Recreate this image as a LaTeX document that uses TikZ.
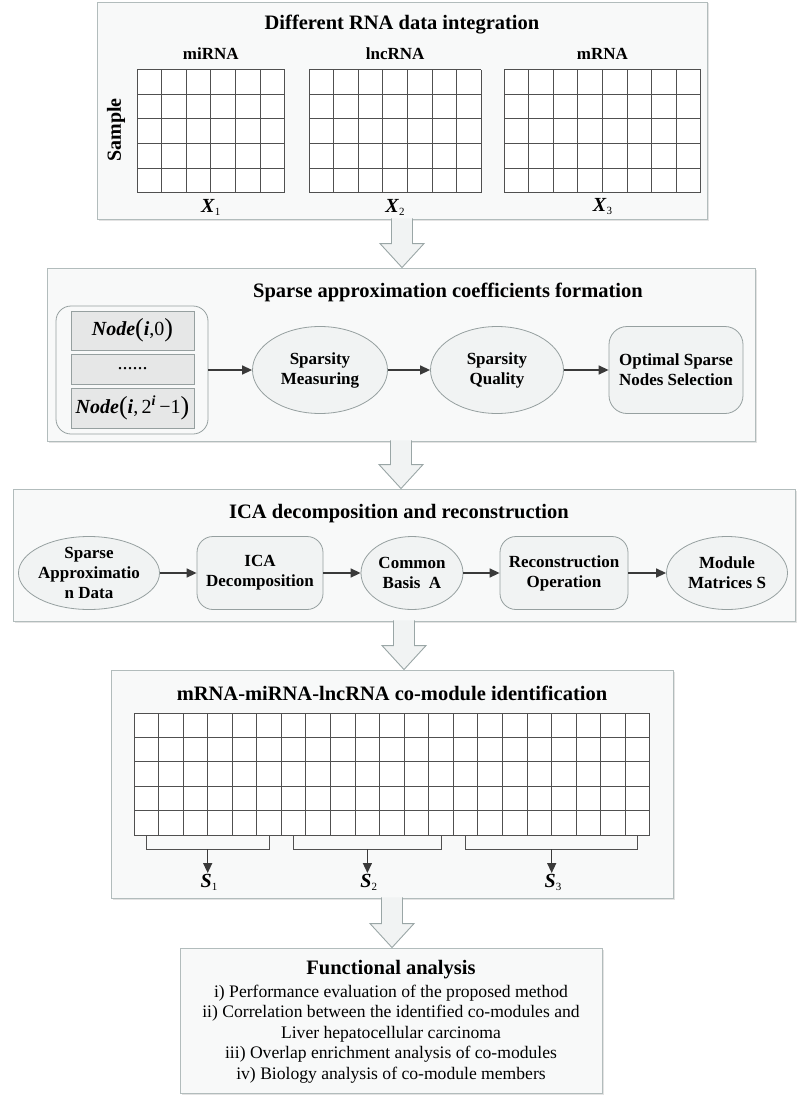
\documentclass[tikz,border=0pt]{standalone}
\usepackage{fontspec}
\setmainfont{Liberation Serif}
\usetikzlibrary{shapes.geometric,arrows.meta,shadows,calc,positioning}

\definecolor{panelfill}{HTML}{F8F9F9}
\definecolor{paneledge}{HTML}{B2BCBC}
\definecolor{boxfill}{HTML}{F1F3F3}
\definecolor{boxedge}{HTML}{96A0A0}
\definecolor{arrowfill}{HTML}{F1F3F3}
\definecolor{arrowedge}{HTML}{9AA6A6}
\definecolor{gridline}{HTML}{505050}
\definecolor{flowline}{HTML}{3A3A3A}

\newcommand\bigtitle{\fontsize{20.5}{24}\selectfont\bfseries}
\newcommand\boxfont{\fontsize{17}{20}\selectfont\bfseries}
\newcommand\bodyfont{\fontsize{17.6}{20.6}\selectfont}
\newcommand\nodefont{\fontsize{20}{22}\selectfont}
\newcommand\bi[1]{\textbf{\textit{#1}}}
\newcommand\bigparen[1]{{\fontsize{26}{26}\selectfont\raisebox{-1.5pt}{#1}}}
\newcommand\lowsub[1]{\raisebox{-3pt}{\fontsize{11}{12}\selectfont#1}}

\begin{document}
\begin{tikzpicture}[x=1pt, y=1pt,
    panel/.style={draw=paneledge, fill=panelfill, line width=0.9pt, inner sep=0pt,
        drop shadow={shadow xshift=1.5pt, shadow yshift=-1.5pt, fill=black!22}},
    paneltitle/.style={font=\bigtitle, inner sep=0pt},
    flowellipse/.style={ellipse, draw=boxedge, fill=boxfill, line width=0.8pt,
        font=\boxfont, align=center, inner sep=-20pt},
    flowbox/.style={rectangle, rounded corners=16pt, draw=boxedge, fill=boxfill,
        line width=0.8pt, font=\boxfont, align=center, inner sep=-20pt},
    nodebox/.style={rectangle, draw=boxedge, fill=boxfill!90!gray, line width=0.8pt,
        minimum width=123pt, inner sep=0pt, font=\nodefont},
    flow/.style={draw=flowline, line width=1.4pt, -{Triangle[length=10pt, width=9pt]}},
    gridcell/.style={draw=gridline, line width=1pt},
    blockarrow/.style={draw=arrowedge, fill=arrowfill, line width=0.9pt},
    sublabel/.style={font=\fontsize{20}{22}\selectfont, inner sep=1.5pt}
    ]
    \useasboundingbox (0,0) rectangle (809,-1097);

    \node[panel, minimum width=610pt, minimum height=217pt] (p1) at (402,-110.5) {};
    \node[panel, minimum width=708pt, minimum height=173pt] (p2) at (401,-354.5) {};
    \node[panel, minimum width=782pt, minimum height=132pt] (p3) at (404,-555) {};
    \node[panel, minimum width=562pt, minimum height=228pt] (p4) at (392,-784) {};
    \node[panel, minimum width=422pt, minimum height=145pt] (p5) at (391,-1020.5) {};

    \foreach \a/\b in {p1/p2, p2/p3, p3/p4, p4/p5}
        \draw[blockarrow] let \p1=(\a.south), \p2=(\b.north) in
            (\x1-10.5pt,\y1+1pt) -- (\x1-10.5pt,\y2+24pt) -- (\x1-22pt,\y2+24pt) -- (\x1,\y2)
            -- (\x1+22pt,\y2+24pt) -- (\x1+10.5pt,\y2+24pt) -- (\x1+10.5pt,\y1+1pt);

    \node[paneltitle] (t1) at (402,-25) {Different RNA data integration};
    \node[font=\boxfont] (mirna) at (210.8,-54) {miRNA};
    \node[font=\boxfont] (lncrna) at (395.1,-54) {lncRNA};
    \node[font=\boxfont] (mrna) at (602.4,-54) {mRNA};
    \node[font=\fontsize{20}{22}\selectfont\bfseries, rotate=90] (smp) at (116,-130) {Sample};
    \foreach \gx/\nc in {137/6, 309/7, 504/8} {
        \fill[white] (\gx,-70) rectangle ++(\nc*24.6,-122.5);
        \foreach \c in {0,...,\nc} \draw[gridcell] (\gx+\c*24.6,-70) -- ++(0,-122.5);
        \foreach \r in {0,...,5} \draw[gridcell] (\gx,-70-\r*24.5) -- ++(\nc*24.6,0);
    }
    \node[sublabel] (x1) at (210.8,-207) {\bi{X}\lowsub{1}};
    \node[sublabel] (x2) at (395.1,-207) {\bi{X}\lowsub{2}};
    \node[sublabel] (x3) at (602.4,-207) {\bi{X}\lowsub{3}};

    \node[paneltitle] (t2) at (448,-292) {Sparse approximation coefficients formation};
    \node[rectangle, rounded corners=15pt, draw=boxedge, fill=panelfill, line width=0.8pt,
        minimum width=152pt, minimum height=128pt] (grp) at (132,-370) {};
    \node[nodebox, minimum height=39pt] (n0) at (132.5,-330.5) {\bi{Node}\bigparen{(}\bi{i},0\bigparen{)}};
    \node[nodebox, minimum height=30pt] (ndots) at (132.5,-369) {......};
    \node[nodebox, minimum height=40pt] (nlast) at (132.5,-408) {\bi{Node}\bigparen{(}\bi{i},\,2\textsuperscript{\bi{i}}\,−1\bigparen{)}};
    \node[flowellipse, minimum width=135pt, minimum height=87pt] (sm) at (320,-370) {Sparsity\\Measuring};
    \node[flowellipse, minimum width=133pt, minimum height=87pt] (sq) at (497,-370) {Sparsity\\Quality};
    \node[flowbox, rounded corners=18pt, minimum width=134pt, minimum height=87pt] (ons) at (676,-370) {Optimal Sparse\\Nodes Selection};
    \draw[flow] (grp) -- (sm);
    \draw[flow] (sm) -- (sq);
    \draw[flow] (sq) -- (ons);

    \node[paneltitle] (t3) at (399,-514) {ICA decomposition and reconstruction};
    \node[flowellipse, minimum width=141pt, minimum height=73pt] (sad) at (89,-573) {Sparse\\Approximatio\\n Data};
    \node[flowbox, minimum width=126pt, minimum height=73pt] (icad) at (260,-573) {ICA\\Decomposition};
    \node[flowellipse, minimum width=102pt, minimum height=73pt] (cba) at (412,-573) {Common\\Basis\ \ A};
    \node[flowbox, minimum width=128pt, minimum height=73pt] (ro) at (564,-573) {Reconstruction\\Operation};
    \node[flowellipse, minimum width=121pt, minimum height=73pt] (mms) at (727,-573) {Module\\Matrices S};
    \draw[flow] (sad) -- (icad);
    \draw[flow] (icad) -- (cba);
    \draw[flow] (cba) -- (ro);
    \draw[flow] (ro) -- (mms);

    \node[paneltitle] (t4) at (392,-693) {mRNA-miRNA-lncRNA co-module identification};
    \fill[white] (134,-713) rectangle (650,-835);
    \foreach \c in {0,...,21} \draw[gridcell] (134+\c*24.57,-713) -- ++(0,-122);
    \foreach \r in {0,...,5} \draw[gridcell] (134,-713-\r*24.4) -- (650,-713-\r*24.4);
    \draw[gridcell] (146.3,-835) |- (269.2,-849) -- (269.2,-835);
    \draw[gridcell] (293.7,-835) |- (441.1,-849) -- (441.1,-835);
    \draw[gridcell] (465.7,-835) |- (637.7,-849) -- (637.7,-835);
    \coordinate (b1) at (207.7,-849);
    \coordinate (b2) at (367.4,-849);
    \coordinate (b3) at (551.7,-849);
    \node[sublabel, anchor=north] (s1) at (209,-873) {\bi{S}\lowsub{1}};
    \node[sublabel, anchor=north] (s2) at (368.7,-873) {\bi{S}\lowsub{2}};
    \node[sublabel, anchor=north] (s3) at (553,-873) {\bi{S}\lowsub{3}};
    \draw[flow] (b1) -- (b1 |- s1.north);
    \draw[flow] (b2) -- (b2 |- s2.north);
    \draw[flow] (b3) -- (b3 |- s3.north);

    \node[paneltitle] (t5) at (391,-970) {Functional analysis};
    \node[font=\bodyfont, align=center, inner sep=0pt] (fa) at (391,-1034) {i) Performance evaluation of the proposed method\\
        ii) Correlation between the identified co-modules and\\
        Liver hepatocellular carcinoma\\
        iii) Overlap enrichment analysis of co-modules\\
        iv) Biology analysis of co-module members};
\end{tikzpicture}
\end{document}
